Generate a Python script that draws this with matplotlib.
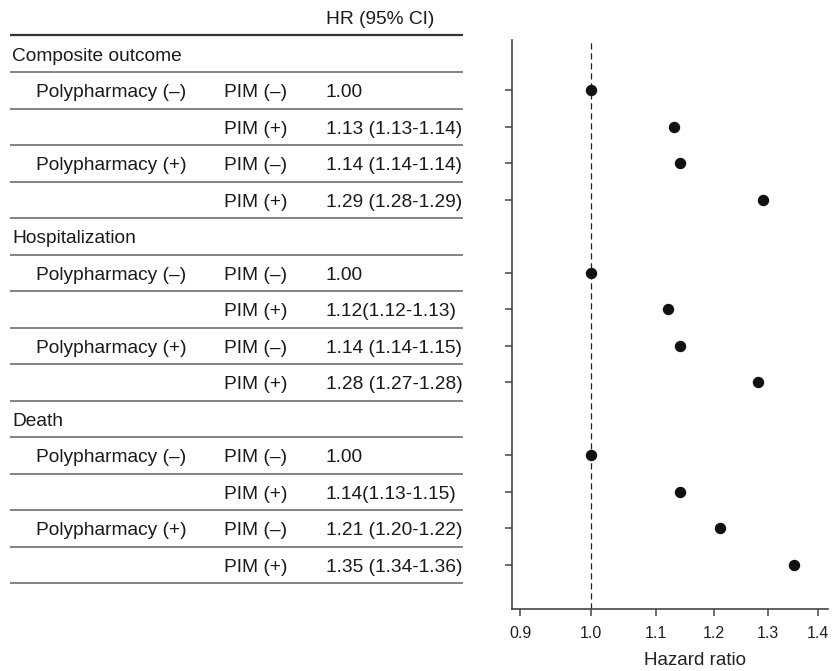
import numpy as np
import matplotlib
matplotlib.use("Agg")
import matplotlib.pyplot as plt
from matplotlib.ticker import FixedLocator, NullLocator, FixedFormatter

plt.rcParams['font.family'] = ['Liberation Sans', 'DejaVu Sans']

# ---- data ----
outcomes = ["Composite outcome", "Hospitalization", "Death"]
poly_labels = ["Polypharmacy (\u2013)", "", "Polypharmacy (+)", ""]
pim_labels = ["PIM (\u2013)", "PIM (+)", "PIM (\u2013)", "PIM (+)"]
hr_composite = [1.00, 1.13, 1.14, 1.29]
hr_hosp = [1.00, 1.12, 1.14, 1.28]
hr_death = [1.00, 1.14, 1.21, 1.35]
hr_text_composite = ["1.00", "1.13 (1.13-1.14)", "1.14 (1.14-1.14)", "1.29 (1.28-1.29)"]
hr_text_hosp = ["1.00", "1.12(1.12-1.13)", "1.14 (1.14-1.15)", "1.28 (1.27-1.28)"]
hr_text_death = ["1.00", "1.14(1.13-1.15)", "1.21 (1.20-1.22)", "1.35 (1.34-1.36)"]
x_ticks = [0.9, 1.0, 1.1, 1.2, 1.3, 1.4]

hr_values = [hr_composite, hr_hosp, hr_death]
hr_texts = [hr_text_composite, hr_text_hosp, hr_text_death]

W, H = 833, 671
fig = plt.figure(figsize=(W / 100, H / 100), dpi=100)

ylim = (15.21, -0.38)
ax_bottom = 1 - 609 / H
ax_height = (609 - 40) / H

# ---- forest plot ----
ax = fig.add_axes([512 / W, ax_bottom, (828 - 512) / W, ax_height])
ax.set_xscale("log")
ax.set_xlim(0.8894, 1.42)
ax.set_ylim(*ylim)

rows = []
vals = []
for g, hv in enumerate(hr_values):
    for k, v in enumerate(hv):
        rows.append(g * 5 + 1 + k)
        vals.append(v)

ax.axvline(1.0, color="#222222", lw=0.9, ls=(0, (5, 3)), zorder=1)
ax.plot(vals, rows, "o", color="#111111", ms=7.2, zorder=3)

ax.xaxis.set_major_locator(FixedLocator(x_ticks))
ax.xaxis.set_major_formatter(FixedFormatter([f"{t:.1f}" for t in x_ticks]))
ax.xaxis.set_minor_locator(NullLocator())
ax.yaxis.set_major_locator(FixedLocator(rows))
ax.set_yticklabels([])
for s in ["top", "right"]:
    ax.spines[s].set_visible(False)
for s in ["left", "bottom"]:
    ax.spines[s].set_color("#444444")
    ax.spines[s].set_linewidth(1.2)
ax.tick_params(axis="both", colors="#444444", length=5, width=1.1,
               labelcolor="#222222", labelsize=11.5)
ax.tick_params(axis="x", pad=7)
ax.set_xlabel("Hazard ratio", fontsize=13.5, color="#222222", labelpad=8, x=0.58)

# ---- table ----
tab = fig.add_axes([0, ax_bottom, 500 / W, ax_height])
tab.set_xlim(0, 500)
tab.set_ylim(*ylim)
tab.axis("off")

fs = 13.8
tc = "#1a1a1a"
line_c = "#6e6e6e"
x0, x1 = 10, 463
dy = 0.06  # small downward nudge so text sits centred in each row

tab.text(326, -1.01 + dy, "HR (95% CI)", fontsize=fs, color=tc, va="center", ha="left", clip_on=False)
tab.plot([x0, x1], [-0.52, -0.52], color="#333333", lw=1.6, clip_on=False, solid_capstyle="butt")

for g, name in enumerate(outcomes):
    base = g * 5
    tab.text(12, base + dy, name, fontsize=fs, color=tc, va="center", ha="left")
    tab.plot([x0, x1], [base + 0.5, base + 0.5], color=line_c, lw=1.2, solid_capstyle="butt")
    for k in range(4):
        r = base + 1 + k
        if poly_labels[k]:
            tab.text(36, r + dy, poly_labels[k], fontsize=fs, color=tc, va="center", ha="left")
        tab.text(224, r + dy, pim_labels[k], fontsize=fs, color=tc, va="center", ha="left")
        tab.text(326, r + dy, hr_texts[g][k], fontsize=fs, color=tc, va="center", ha="left")
        tab.plot([x0, x1], [r + 0.5, r + 0.5], color=line_c, lw=1.2, solid_capstyle="butt")

fig.savefig("out.png", dpi=100)
